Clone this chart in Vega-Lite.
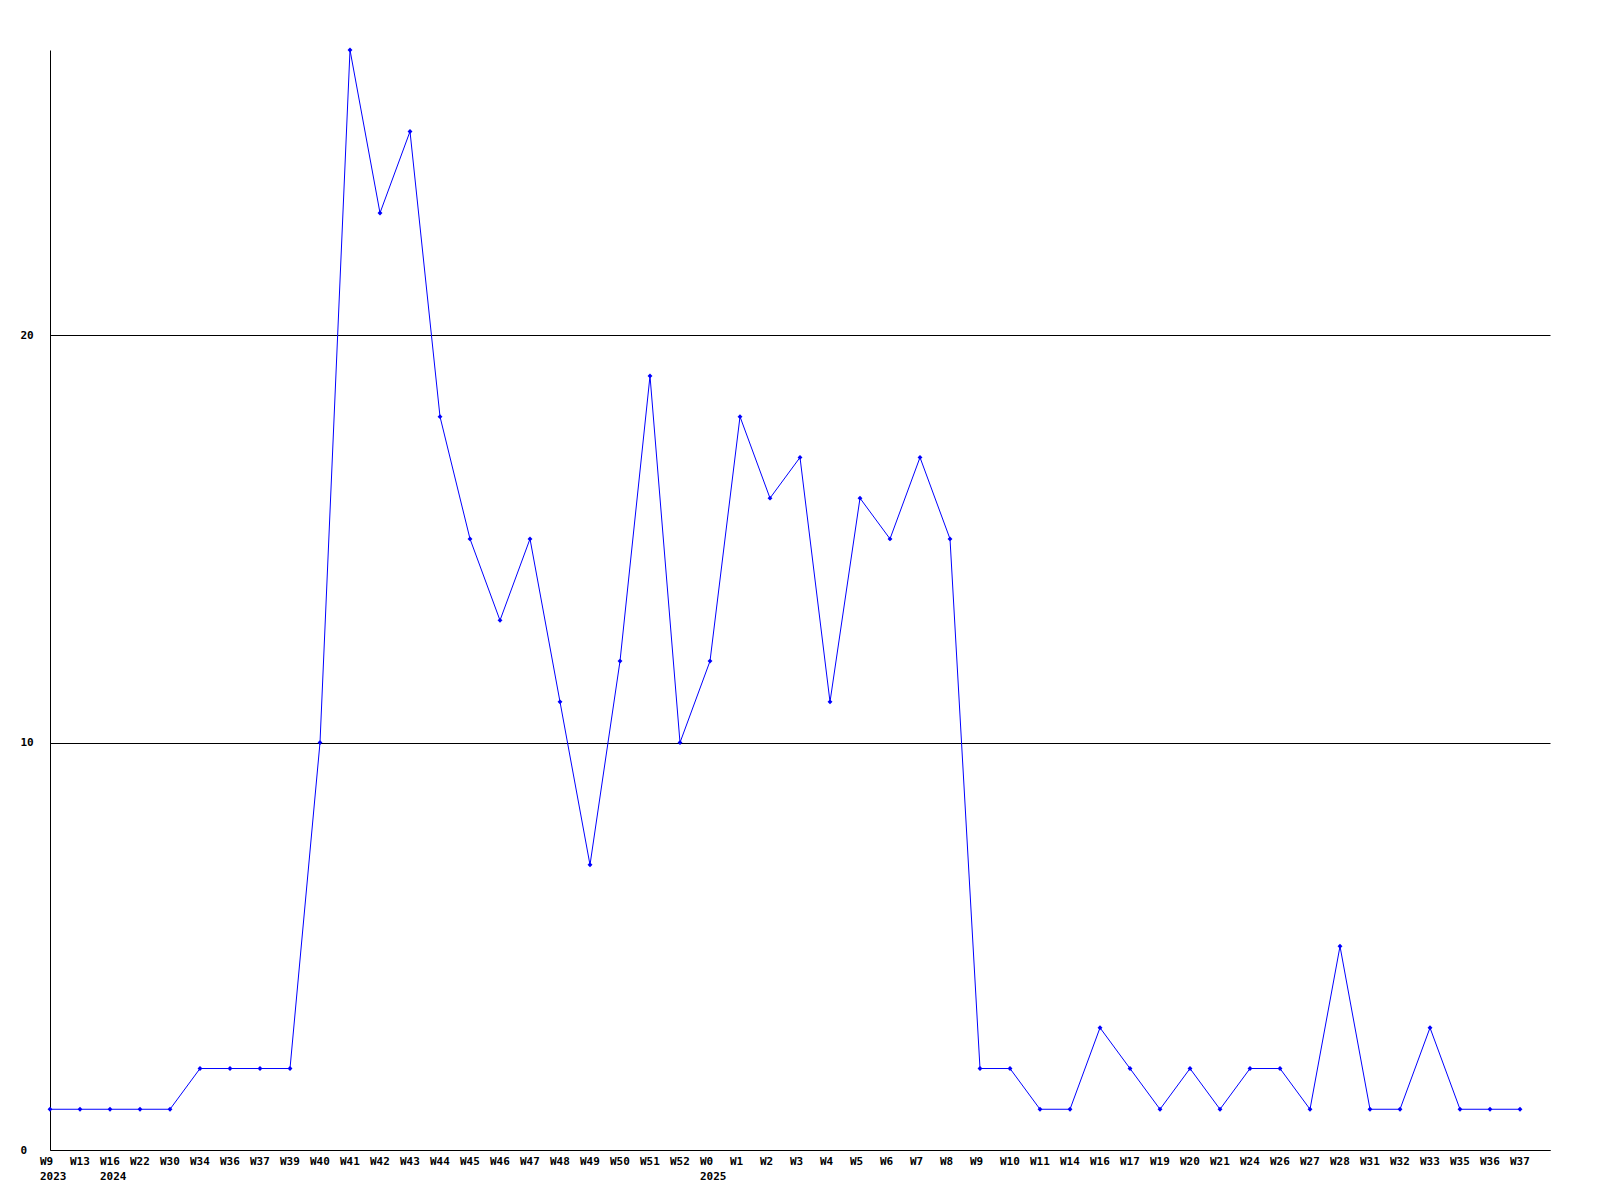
{
  "$schema": "https://vega.github.io/schema/vega-lite/v6.json",
  "width": 1500,
  "height": 1100,
  "autosize": "none",
  "padding": {"left": 50, "top": 50, "right": 50, "bottom": 50},
  "background": "white",
  "config": {"view": {"stroke": null}},
  "data": {"values": [
    {"week": "2023-W9", "value": 1},
    {"week": "2023-W13", "value": 1},
    {"week": "2024-W16", "value": 1},
    {"week": "2024-W22", "value": 1},
    {"week": "2024-W30", "value": 1},
    {"week": "2024-W34", "value": 2},
    {"week": "2024-W36", "value": 2},
    {"week": "2024-W37", "value": 2},
    {"week": "2024-W39", "value": 2},
    {"week": "2024-W40", "value": 10},
    {"week": "2024-W41", "value": 27},
    {"week": "2024-W42", "value": 23},
    {"week": "2024-W43", "value": 25},
    {"week": "2024-W44", "value": 18},
    {"week": "2024-W45", "value": 15},
    {"week": "2024-W46", "value": 13},
    {"week": "2024-W47", "value": 15},
    {"week": "2024-W48", "value": 11},
    {"week": "2024-W49", "value": 7},
    {"week": "2024-W50", "value": 12},
    {"week": "2024-W51", "value": 19},
    {"week": "2024-W52", "value": 10},
    {"week": "2025-W0", "value": 12},
    {"week": "2025-W1", "value": 18},
    {"week": "2025-W2", "value": 16},
    {"week": "2025-W3", "value": 17},
    {"week": "2025-W4", "value": 11},
    {"week": "2025-W5", "value": 16},
    {"week": "2025-W6", "value": 15},
    {"week": "2025-W7", "value": 17},
    {"week": "2025-W8", "value": 15},
    {"week": "2025-W9", "value": 2},
    {"week": "2025-W10", "value": 2},
    {"week": "2025-W11", "value": 1},
    {"week": "2025-W14", "value": 1},
    {"week": "2025-W16", "value": 3},
    {"week": "2025-W17", "value": 2},
    {"week": "2025-W19", "value": 1},
    {"week": "2025-W20", "value": 2},
    {"week": "2025-W21", "value": 1},
    {"week": "2025-W24", "value": 2},
    {"week": "2025-W26", "value": 2},
    {"week": "2025-W27", "value": 1},
    {"week": "2025-W28", "value": 5},
    {"week": "2025-W31", "value": 1},
    {"week": "2025-W32", "value": 1},
    {"week": "2025-W33", "value": 3},
    {"week": "2025-W35", "value": 1},
    {"week": "2025-W36", "value": 1},
    {"week": "2025-W37", "value": 1}
  ]},
  "encoding": {
    "x": {
      "field": "week",
      "type": "ordinal",
      "sort": null,
      "bandPosition": 0,
      "scale": {"type": "band", "paddingInner": 0, "paddingOuter": 0},
      "axis": {
        "title": null,
        "ticks": false,
        "grid": false,
        "labelAngle": 0,
        "labelAlign": "left",
        "labelBaseline": "top",
        "labelOffset": -25,
        "labelPadding": 5,
        "labelLineHeight": 15,
        "labelFont": "DejaVu Sans Mono",
        "labelFontWeight": "bold",
        "labelFontSize": 11,
        "labelColor": "black",
        "labelOverlap": false,
        "labelExpr": "indexof(['2023-W9','2024-W16','2025-W0'], datum.value) >= 0 ? [split(datum.value,'-')[1], split(datum.value,'-')[0]] : split(datum.value,'-')[1]",
        "domainColor": "black",
        "domainWidth": 1
      }
    },
    "y": {
      "field": "value",
      "type": "quantitative",
      "scale": {"domain": [0, 27], "nice": false, "zero": true},
      "axis": {
        "title": null,
        "values": [0, 10, 20],
        "ticks": false,
        "grid": true,
        "gridColor": "black",
        "gridOpacity": 1,
        "gridWidth": 1,
        "labelAlign": "left",
        "labelBaseline": "middle",
        "labelPadding": 30,
        "labelFont": "DejaVu Sans Mono",
        "labelFontWeight": "bold",
        "labelFontSize": 11,
        "labelColor": "black",
        "domainColor": "black",
        "domainWidth": 1
      }
    }
  },
  "layer": [
    {"mark": {"type": "line", "color": "#0000ff", "strokeWidth": 1}},
    {"mark": {"type": "point", "shape": "diamond", "filled": true, "color": "#0000ff", "size": 24, "opacity": 1}}
  ]
}
